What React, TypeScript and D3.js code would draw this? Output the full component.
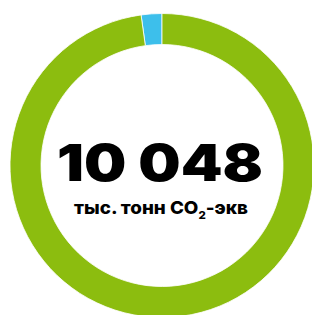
import React from 'react';
import * as d3 from 'd3';

const categories = ['Прочие', 'Основные'];
const values = [221, 9827];
const colors = ['#3dbfeb', '#8cbd0f'];
const totalLabel = '10 048';

const width = 312;
const height = 315;
const cx = 162;
const cy = 165.5;
const outerR = 152;
const innerR = 121;

export default function App() {
  const share = values[0] / d3.sum(values);
  const pie = d3
    .pie<number>()
    .sort(null)
    .startAngle(-2 * Math.PI * share)
    .endAngle(2 * Math.PI - 2 * Math.PI * share);
  const arcs = pie(values);
  const arc = d3.arc<d3.PieArcDatum<number>>().innerRadius(innerR).outerRadius(outerR);

  return (
    <svg
      width={width}
      height={height}
      style={{ position: 'absolute', left: 0, top: 0, background: '#fff' }}
    >
      <g transform={`translate(${cx},${cy})`}>
        {arcs.map((a, i) => (
          <path
            key={categories[i]}
            d={arc(a) || ''}
            fill={colors[i]}
            stroke="#fff"
            strokeWidth={0.8}
          />
        ))}
        <text
          x={-2}
          y={15}
          textAnchor="middle"
          fontFamily="Inter, 'Noto Sans', sans-serif"
          fontWeight={900}
          fontSize={51}
          fill="#000"
          textLength={206}
          lengthAdjust="spacingAndGlyphs"
        >
          {totalLabel}
        </text>
        <text
          x={-1}
          y={48}
          textAnchor="middle"
          fontFamily="Inter, 'Noto Sans', sans-serif"
          fontWeight={800}
          fontSize={18}
          fill="#000"
          textLength={174}
          lengthAdjust="spacingAndGlyphs"
        >
          тыс. тонн CO
          <tspan fontSize={11} dy={5}>2</tspan>
          <tspan dy={-5}>-экв</tspan>
        </text>
      </g>
    </svg>
  );
}
